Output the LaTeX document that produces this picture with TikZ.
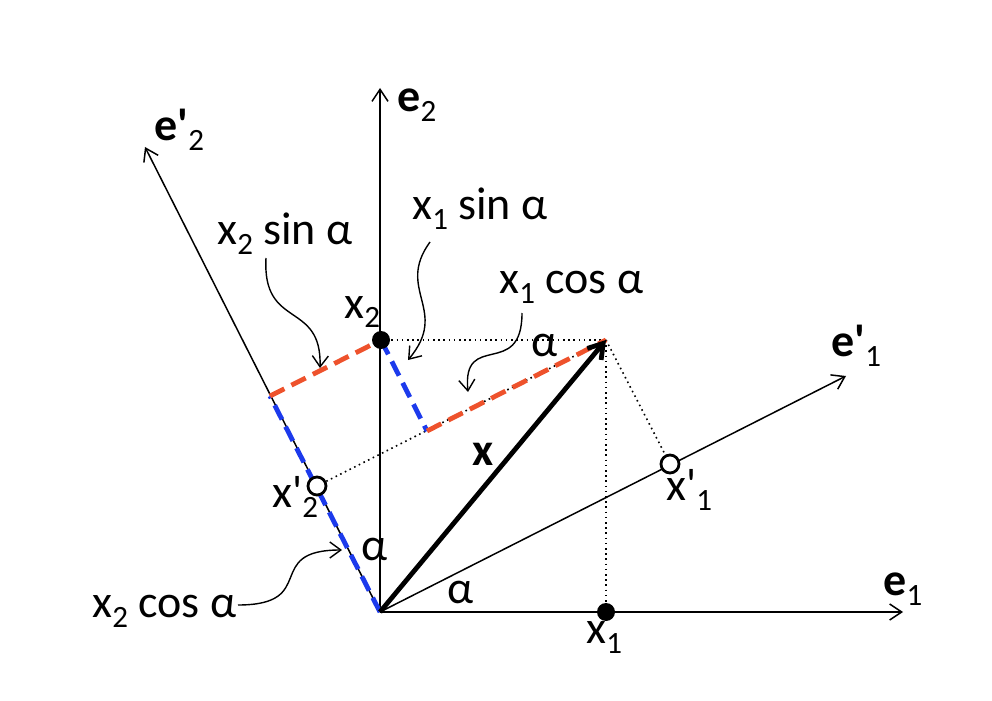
\documentclass[tikz,border=0pt]{standalone}
\usepackage{fontspec}
\setmainfont{Carlito}
\usetikzlibrary{arrows.meta}
\definecolor{myred}{RGB}{238,82,44}
\definecolor{myblue}{RGB}{28,58,236}
\tikzset{
 axis/.style={line width=0.75pt, -{Straight Barb[length=6pt,width=8pt]}},
 dashred/.style={myred, line width=2.4pt, dash pattern=on 8pt off 4pt},
 dashblue/.style={myblue, line width=2.4pt, dash pattern=on 8pt off 4pt},
 dots/.style={line width=0.8pt, dash pattern=on 0.8pt off 1.8pt},
 callout/.style={line width=0.7pt, -{Straight Barb[length=5.5pt,width=8pt]}},
 lbl/.style={font=\fontsize{23}{27}\selectfont, inner sep=0pt, anchor=base west},
 fdot/.style={circle, fill=black, minimum size=9pt, inner sep=0pt},
 odot/.style={circle, draw=black, fill=white, line width=1.4pt, minimum size=9pt, inner sep=0pt},
}
\newcommand{\pr}{\textquotesingle}
\newcommand{\sbs}[1]{\raisebox{-5pt}{\fontsize{15.5}{18}\selectfont\mdseries #1}}
\begin{document}
\begin{tikzpicture}[x=0.5pt,y=-0.5pt]
\useasboundingbox (0,0) rectangle (992,701);
% axes
\coordinate (O) at (380,612);
\coordinate (E1) at (903,612);
\coordinate (E2) at (380,88);
\coordinate (E1p) at (846,376);
\coordinate (E2p) at (145,147);
\coordinate (P) at (270,396);
\coordinate (Q) at (427,431);
\coordinate (X) at (606,340);
\coordinate (X1) at (606,612);
\coordinate (X2) at (381,340);
\coordinate (X1p) at (670,464);
\coordinate (X2p) at (317,486);
\draw[axis] (O) -- (E1);
\draw[axis] (O) -- (E2);
\draw[axis] (O) -- (E1p);
\draw[axis] (O) -- (E2p);
% dotted
\draw[dots] (X2) -- (X);
\draw[dots] (X) -- (X1);
\draw[dots] (X) -- (X1p);
\draw[dots] (X2p) -- (X);
% dashed
\draw[dashblue] (O) -- (P);
\draw[dashred] (P) -- (X2);
\draw[dashblue] (X2) -- (Q);
\draw[dashred] (Q) -- (X);
% vector x
\draw[line width=2.4pt, -{Straight Barb[length=7pt,width=9pt]}] (O) -- (X);
% points
\node[fdot] (x1dot) at (X1) {};
\node[fdot] (x2dot) at (X2) {};
\node[odot] (x1pdot) at (X1p) {};
\node[odot] (x2pdot) at (X2p) {};
% labels
\node[lbl] (le2) at (397,112) {\textbf{e}\sbs{2}};
\node[lbl] (le2p) at (154,141) {\textbf{e\pr}\sbs{2}};
\node[lbl] (le1p) at (831,357) {\textbf{e\pr}\sbs{1}};
\node[lbl] (le1) at (883,595) {\textbf{e}\sbs{1}};
\node[lbl] (lx2) at (344,318) {x\sbs{2}};
\node[lbl] (lx1) at (586,643) {x\sbs{1}};
\node[lbl] (lx1p) at (666,500) {x\pr\sbs{1}};
\node[lbl] (lx2p) at (272,507) {x\pr\sbs{2}};
\node[lbl] (lx) at (472,465) {\textbf{x}};
\node[lbl] (a1) at (531,357) {α};
\node[lbl] (a2) at (361,560) {α};
\node[lbl] (a3) at (447,603) {α};
\node[lbl] (t1) at (217,245) {x\sbs{2} sin α};
\node[lbl] (t2) at (412,220) {x\sbs{1} sin α};
\node[lbl] (t3) at (499,293) {x\sbs{1} cos α};
\node[lbl] (t4) at (92,617) {x\sbs{2} cos α};
% callouts
\coordinate (c1) at (320,368);
\coordinate (c2) at (408,360);
\coordinate (c3) at (468,392);
\coordinate (c4) at (342,550);
\draw[callout] (266,258) .. controls (262,330) and (322,300) .. (c1);
\draw[callout] (430,242) .. controls (395,290) and (450,310) .. (c2);
\draw[callout] (522,313) .. controls (522,380) and (462,330) .. (c3);
\draw[callout] (238,605) .. controls (320,605) and (262,550) .. (c4);
\end{tikzpicture}
\end{document}
